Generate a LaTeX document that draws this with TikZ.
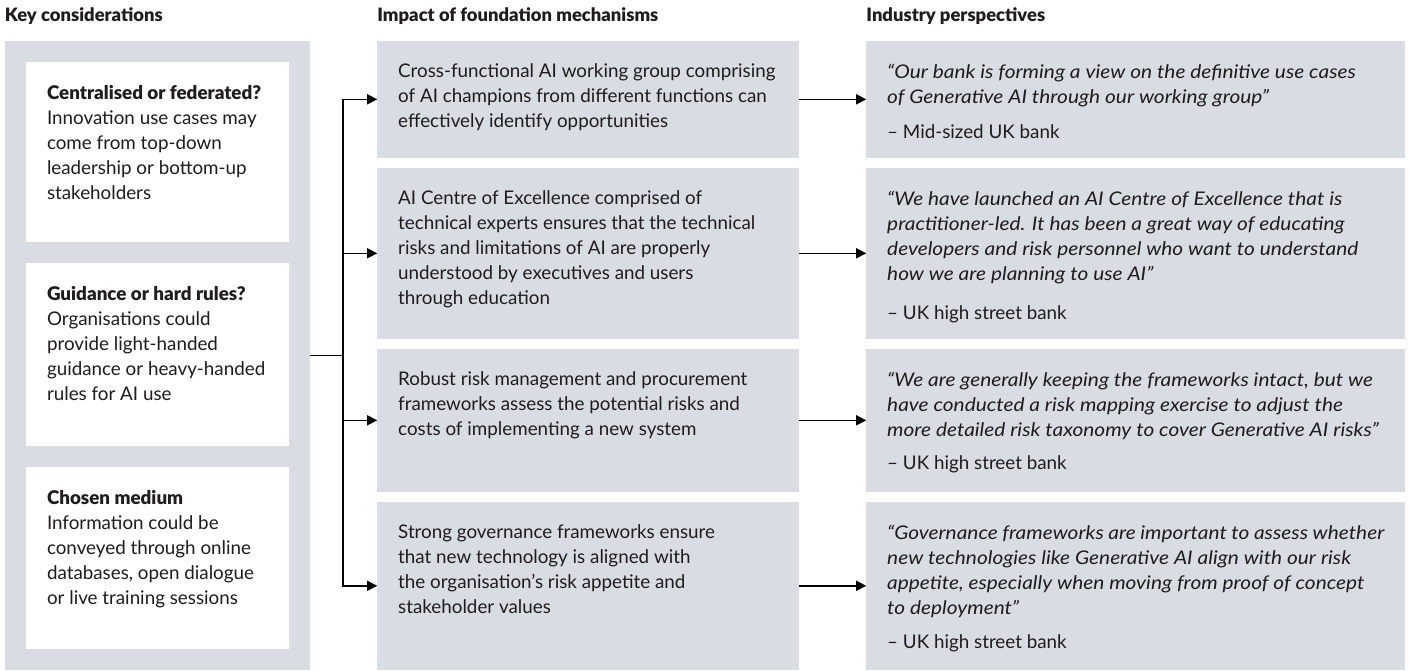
\documentclass[tikz,border=0pt]{standalone}
\usepackage{fontspec}
\setmainfont{Lato}[BoldFont={Lato Black}, ItalicFeatures={FakeStretch=1.11}]
\usetikzlibrary{arrows.meta, positioning, fit, backgrounds}
\definecolor{panelGrey}{RGB}{217, 220, 227}
\definecolor{inkBlack}{RGB}{30, 28, 29}
% box text: height, width (in px), contents
\newcommand{\boxtext}[3]{\parbox[c][\dimexpr#1pt-42pt\relax][t]{\dimexpr#2pt-42pt\relax}{\raggedright\vspace*{2pt}#3}}
\tikzset{
    % Base Block Style
    cell/.style={
        rectangle,
        inner sep=21pt,
        outer sep=0pt,
        font=\fontsize{18.8}{25}\selectfont,
        text=inkBlack
    },
    % Specific Column Styles
    keyBox/.style={cell, fill=white},
    mechBox/.style={cell, fill=panelGrey},
    quoteBox/.style={cell, fill=panelGrey},
    % Heading & Arrow Styles
    heading/.style={font=\bfseries\fontsize{18.4}{25}\selectfont, text=inkBlack, anchor=base west, inner sep=0pt},
    link/.style={-{Triangle[length=10pt, width=10pt]}, line width=1.5pt, draw=black}
}

\begin{document}
\begin{tikzpicture}[
    x=1pt, y=-1pt,
    node distance=10pt and 67pt
]
    \useasboundingbox (0,0) rectangle (1410,671);

    % --- LEFT COLUMN (Key considerations) ---
    \node (key1) [keyBox, anchor=north west] at (26,62) {\boxtext{180}{263}{
        \textbf{Centralised or federated?}\\
        Innovation use cases may\\
        come from top-down\\
        leadership or bottom-up\\
        stakeholders}};
    \node (key2) [keyBox, below=21pt of key1] {\boxtext{183}{263}{
        \textbf{Guidance or hard rules?}\\
        Organisations could\\
        provide light-handed\\
        guidance or heavy-handed\\
        rules for AI use}};
    \node (key3) [keyBox, below=21pt of key2] {\boxtext{182}{263}{
        \textbf{Chosen medium}\\
        Information could be\\
        conveyed through online\\
        databases, open dialogue\\
        or live training sessions}};

    \begin{scope}[on background layer]
        \node (keyPanel) [fit=(key1)(key2)(key3), fill=panelGrey, inner sep=21pt] {};
    \end{scope}

    % --- MIDDLE COLUMN (Foundation mechanisms) ---
    \node (mech1) [mechBox, right=of keyPanel.north east, anchor=north west] {\boxtext{117}{422}{
        Cross-functional AI working group comprising\\
        of AI champions from different functions can\\
        effectively identify opportunities}};
    \node (mech2) [mechBox, below=of mech1] {\boxtext{171}{422}{
        AI Centre of Excellence comprised of\\
        technical experts ensures that the technical\\
        risks and limitations of AI are properly\\
        understood by executives and users\\
        through education}};
    \node (mech3) [mechBox, below=of mech2] {\boxtext{143}{422}{
        Robust risk management and procurement\\
        frameworks assess the potential risks and\\
        costs of implementing a new system}};
    \node (mech4) [mechBox, below=of mech3] {\boxtext{168}{422}{
        Strong governance frameworks ensure\\
        that new technology is aligned with\\
        the organisation’s risk appetite and\\
        stakeholder values}};

    % --- RIGHT COLUMN (Industry perspectives) ---
    \node (quote1) [quoteBox, right=of mech1] {\boxtext{117}{539}{
        \textit{“Our bank is forming a view on the definitive use cases\\
        of Generative AI through our working group”}\\[10pt]
        – Mid-sized UK bank}};
    \node (quote2) [quoteBox, right=of mech2] {\boxtext{171}{539}{
        \textit{“We have launched an AI Centre of Excellence that is\\
        practitioner-led. It has been a great way of educating\\
        developers and risk personnel who want to understand\\
        how we are planning to use AI”}\\[14pt]
        – UK high street bank}};
    \node (quote3) [quoteBox, right=of mech3] {\boxtext{143}{539}{
        \textit{“We are generally keeping the frameworks intact, but we\\
        have conducted a risk mapping exercise to adjust the\\
        more detailed risk taxonomy to cover Generative AI risks”}\\[8pt]
        – UK high street bank}};
    \node (quote4) [quoteBox, right=of mech4] {\boxtext{168}{539}{
        \textit{“Governance frameworks are important to assess whether\\
        new technologies like Generative AI align with our risk\\
        appetite, especially when moving from proof of concept\\
        to deployment”}\\[9pt]
        – UK high street bank}};

    % --- Headings ---
    \node (keyHead) [heading] at ([yshift=19pt]keyPanel.north west) {Key considerations};
    \node (mechHead) [heading] at ([yshift=19pt]mech1.north west) {Impact of foundation mechanisms};
    \node (quoteHead) [heading] at ([yshift=19pt]quote1.north west) {Industry perspectives};

    % --- Arrows ---
    \draw [link, -] (keyPanel.east) -- ++(33,0) coordinate (hub);
    \foreach \i in {1,...,4} {
        \draw [link] (hub) |- (mech\i.west);
        \draw [link] (mech\i) -- (quote\i);
    }

\end{tikzpicture}
\end{document}
